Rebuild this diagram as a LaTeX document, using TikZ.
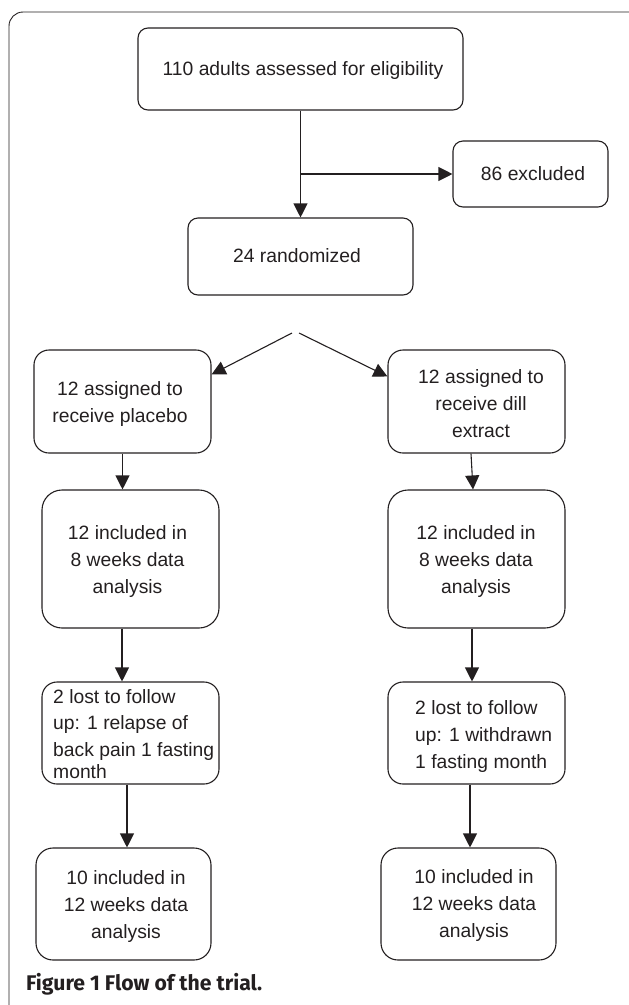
\documentclass[tikz,border=0pt]{standalone}
\usepackage{fontspec}
\usepackage{graphicx}
\setmainfont{Liberation Sans}
\newfontfamily\capfont{Fira Sans}
\usetikzlibrary{arrows.meta,calc}
\definecolor{ink}{HTML}{231F20}
\begin{document}
\begin{tikzpicture}[x=1pt,y=-1pt,
  box/.style={draw=ink, line width=1.1pt, inner sep=0pt},
  txt/.style={text=ink, font=\fontsize{19.3}{27}\selectfont, inner sep=0pt, align=center, anchor=base},
  ltxt/.style={text=ink, font=\fontsize{19.3}{27}\selectfont, inner sep=0pt, align=left, anchor=base west},
  arr/.style={draw=ink, line width=1.1pt, -{Triangle[length=14pt,width=14pt]}}]
\useasboundingbox (0,0) rectangle (629,1005);
\begin{scope}
\clip (0,0) rectangle (629,1005);
\draw[ink, line width=0.9pt, rounded corners=14pt] (9,12) rectangle (645,1020);
\end{scope}

% boxes
\node[box, rounded corners=10pt, minimum width=325pt, minimum height=82pt] (top) at (300.5,69) {};
\node[box, rounded corners=10pt, minimum width=155pt, minimum height=66pt] (excl) at (530.5,174) {};
\node[box, rounded corners=10pt, minimum width=225pt, minimum height=77pt] (rand) at (300.5,256.5) {};
\node[box, rounded corners=15pt, minimum width=177pt, minimum height=103pt] (pl) at (122.5,401.5) {};
\node[box, rounded corners=15pt, minimum width=177pt, minimum height=103pt] (dill) at (476.5,401.5) {};
\node[box, rounded corners=20pt, minimum width=177pt, minimum height=138pt] (inc8L) at (130.5,559) {};
\node[box, rounded corners=20pt, minimum width=177pt, minimum height=138pt] (inc8R) at (476.5,559) {};
\node[box, rounded corners=15pt, minimum width=177pt, minimum height=102pt] (lostL) at (130.5,733) {};
\node[box, rounded corners=15pt, minimum width=177pt, minimum height=102pt] (lostR) at (476.5,733) {};
\node[box, rounded corners=17pt, minimum width=175pt, minimum height=112pt] (inc12L) at (123.5,904) {};
\node[box, rounded corners=17pt, minimum width=175pt, minimum height=112pt] (inc12R) at (468.5,904) {};

% texts (multi-line nodes: base = last line)
\node[txt] (topT) at (303,75) {110 adults assessed for eligibility};
\node[txt] (exclT) at (533,180) {86 excluded};
\node[txt] (randT) at (297,262) {24 randomized};
\node[txt] (plT) at (120,422) {12 assigned to\\receive placebo};
\node[txt] (dillT) at (481,437) {12 assigned to\\receive dill\\extract};
\node[txt] (inc8LT) at (127.5,593) {12 included in\\8 weeks data\\analysis};
\node[txt] (inc8RT) at (476,593) {12 included in\\8 weeks data\\analysis};
\node[ltxt] (lostLT) at (53,778) {2 lost to follow\\[-1pt]up: 1 relapse of\\back pain 1 fasting\\[-5pt]month};
\node[ltxt] (lostRT) at (415,768) {2 lost to follow\\up: 1 withdrawn\\1 fasting month};
\node[txt] (inc12LT) at (126,938) {10 included in\\12 weeks data\\analysis};
\node[txt] (inc12RT) at (474,937) {10 included in\\12 weeks data\\analysis};

% connectors
\draw[arr] (top.south) -- (rand.north);
\coordinate (br) at (top.south |- excl.west);
\draw[arr] (br) -- (excl.west);
\coordinate (d1) at (292,333);
\coordinate (d2) at (299,333);
\draw[arr] (d1) -- ($(pl.north east)+(0,25)$);
\draw[arr] (d2) -- ($(dill.north west)+(0,27)$);
\draw[arr] (pl.south) -- (pl.south |- inc8L.north);
\draw[arr] ([xshift=-5.5pt]dill.south) -- ([xshift=-3.5pt]inc8R.north);
\draw[arr] ([xshift=-8.5pt]inc8L.south) -- ([xshift=-8.5pt]lostL.north);
\draw[arr] ([xshift=-4.5pt]inc8R.south) -- ([xshift=-4.5pt]lostR.north);
\draw[arr] ([xshift=-3.5pt]lostL.south) -- ([xshift=3.5pt]inc12L.north);
\draw[arr] ([xshift=-6.5pt]lostR.south) -- ([xshift=1.5pt]inc12R.north);

% caption
\node[anchor=base west, inner sep=0pt, text=ink] (cap) at (26,990) {\resizebox{236pt}{!}{\capfont\bfseries Figure 1 Flow of the trial.}};
\end{tikzpicture}
\end{document}
